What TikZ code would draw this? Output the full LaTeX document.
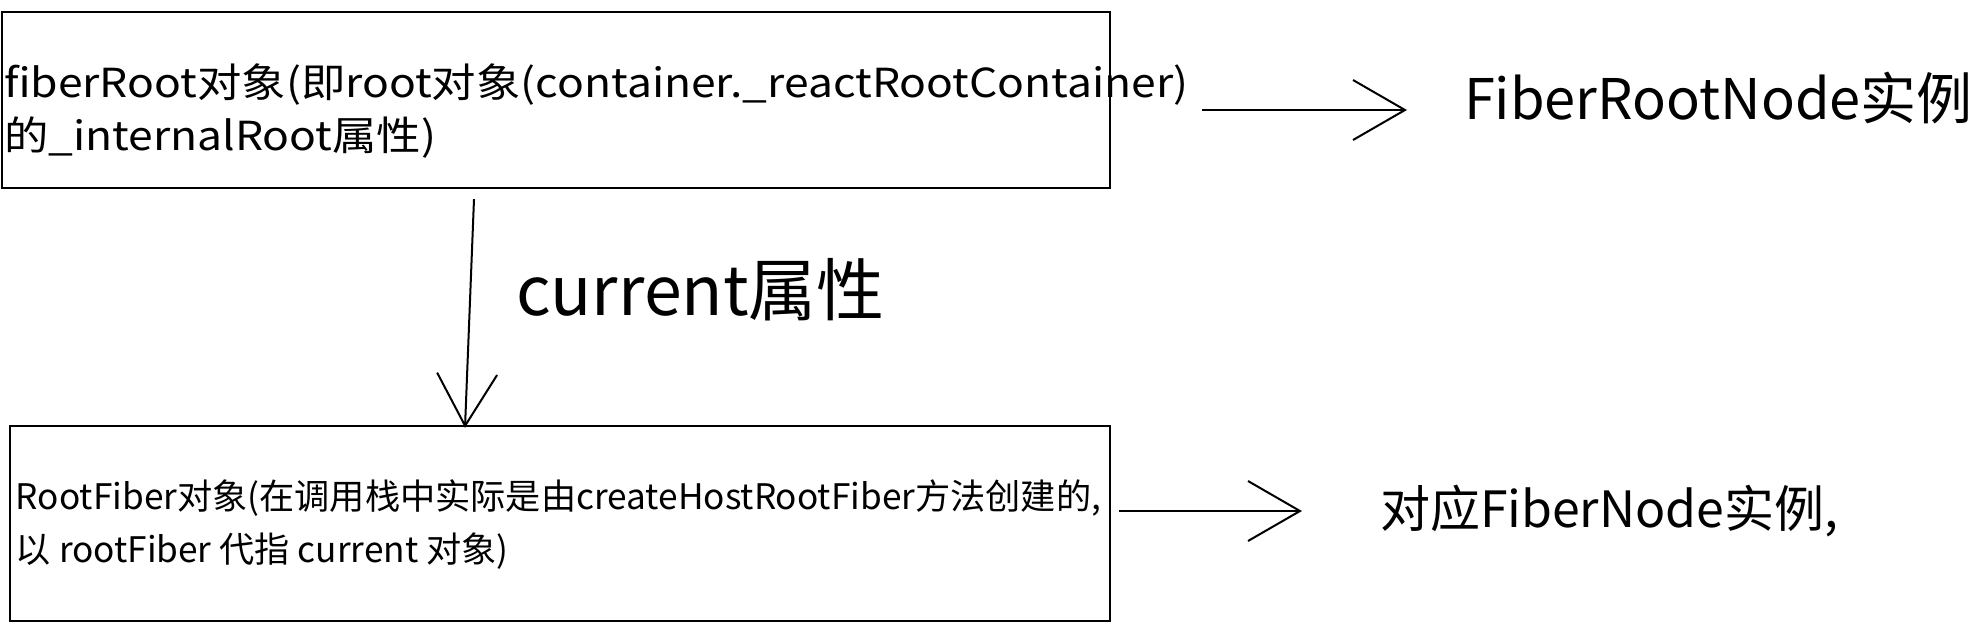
\documentclass[tikz,border=0pt]{standalone}
\usepackage{fontspec}
\setmainfont{Noto Sans CJK SC}
\newfontfamily\widefont[FakeStretch=1.11]{Noto Sans CJK SC}
\usetikzlibrary{positioning}
\usetikzlibrary{arrows.meta}

\begin{document}
\begin{tikzpicture}[
            x = 0.5pt, y = -0.5pt, % pixel grid, y runs down
            > = {Straight Barb[length=26pt, width=30pt, line width=1pt]}, % open arrow head
            line width = 1pt
        ]

        \tikzstyle{box}=[
            draw,
            line width = 1.2pt,
            inner sep = 0pt
        ]
        \tikzstyle{txt}=[
            inner sep = 0pt,
            anchor = west,
            align = left
        ]
        \tikzstyle{big}=[
            inner sep = 0pt,
            anchor = west
        ]

        \useasboundingbox (0,0) rectangle (1978,638);

        % fiberRoot
        \node[box, minimum width=554pt, minimum height=88pt] (Root) at (556,100) {};
        \node[txt, font=\widefont\fontsize{20pt}{26.5pt}\selectfont] (RootTxt) at (3,111) {fiberRoot对象(即root对象(container.\_reactRootContainer)\\的\_internalRoot属性)};
        \node[big, font=\fontsize{28pt}{31pt}\selectfont] (FRN) at (1463,98) {FiberRootNode实例};

        \draw[->] ([xshift=45.5pt,yshift=-5pt]Root.east) -- ([xshift=-28pt,yshift=-6pt]FRN.west);

        % rootFiber
        \node[box, minimum width=550pt, minimum height=97.5pt] (Fiber) at (560,523.5) {};
        \node[txt, font=\fontsize{17.6pt}{26.5pt}\selectfont] (FiberTxt) at (15,525) {RootFiber对象(在调用栈中实际是由createHostRootFiber方法创建的,\\以 rootFiber 代指 current 对象)};
        \node[big, font=\fontsize{25pt}{28pt}\selectfont] (FN) at (1379,511) {对应FiberNode实例,};

        \draw[->] ([xshift=4pt,yshift=6.25pt]Fiber.east) -- ([xshift=-38.5pt]FN.west);

        % current
        \node[big, font=\fontsize{34pt}{37pt}\selectfont] (Cur) at (515,290) {current属性};
        \draw[->] ([xshift=-41pt,yshift=-5pt]Root.south) -- ([xshift=-47.5pt,yshift=-1.5pt]Fiber.north);

\end{tikzpicture}
\end{document}
